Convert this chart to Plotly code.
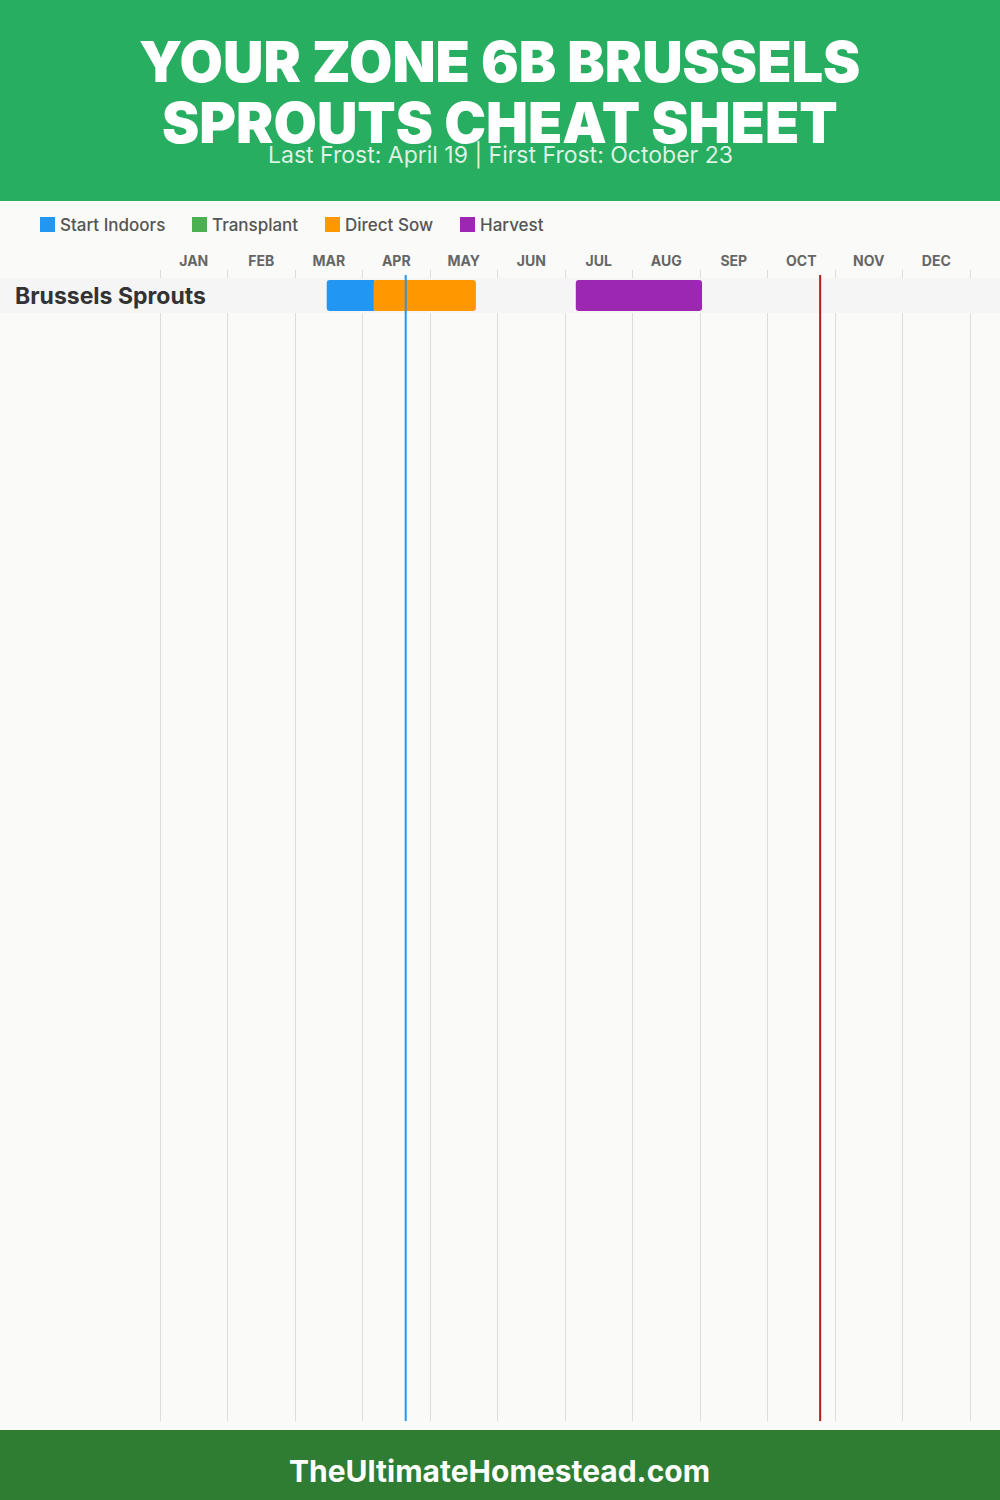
import plotly.graph_objects as go

# ---- data (x unit: months since 1 Jan) ----
months = ["JAN", "FEB", "MAR", "APR", "MAY", "JUN", "JUL", "AUG", "SEP", "OCT", "NOV", "DEC"]
month_edges = [0, 1, 2, 3, 4, 5, 6, 7, 8, 9, 10, 11, 12]
month_centres = [0.5, 1.5, 2.5, 3.5, 4.5, 5.5, 6.5, 7.5, 8.5, 9.5, 10.5, 11.5]
crops = ["Brussels Sprouts"]
phase_names = ["Start Indoors", "Direct Sow", "Harvest"]
phase_starts = [2.47, 3.165, 6.16]
phase_ends = [3.2, 4.68, 8.03]
phase_colors = ["#2196F3", "#FF9800", "#9C27B0"]
legend_names = ["Start Indoors", "Transplant", "Direct Sow", "Harvest"]
legend_colors = ["#2196F3", "#4CAF50", "#FF9800", "#9C27B0"]
legend_px = [40, 192, 325, 460]
last_frost = 3.64
first_frost = 9.78

title_lines = ["YOUR ZONE 6B BRUSSELS", "SPROUTS CHEAT SHEET"]
subtitle = "Last Frost: April 19 | First Frost: October 23"
footer = "TheUltimateHomestead.com"

W, H = 1000, 1500
FONT = "Inter"
PX_MONTH = 67.5
PLOT_TOP, PLOT_BOTTOM = 270, 1421
ROW_H = 35
ROW_C = 295.5
X_MIN, X_MAX = -160 / PX_MONTH, (W - 160) / PX_MONTH


def py(px):
    return 1 - px / H


fig = go.Figure()
for name, s, e, c in zip(phase_names, phase_starts, phase_ends, phase_colors):
    fig.add_trace(go.Bar(
        y=crops, x=[e - s], base=[s], orientation="h", name=name,
        marker=dict(color=c, line=dict(width=0)), width=31 / ROW_H, showlegend=False,
        hovertemplate=name + ": %{base:.2f} to %{x:.2f}<extra></extra>",
    ))

shapes = [
    dict(type="rect", xref="paper", yref="paper", x0=0, x1=1, y0=py(201), y1=1,
         fillcolor="#27AE60", line_width=0, layer="below"),
    dict(type="rect", xref="paper", yref="paper", x0=0, x1=1, y0=0, y1=py(1430),
         fillcolor="#2E7D32", line_width=0, layer="below"),
    dict(type="rect", xref="x", yref="y", x0=X_MIN, x1=X_MAX, y0=-0.5, y1=0.5,
         fillcolor="#F5F5F5", line_width=0, layer="between"),
]
frost_top = (PLOT_BOTTOM - 275) / (PLOT_BOTTOM - PLOT_TOP)
for val, col in ((last_frost, "#2196F3"), (first_frost, "#B71C1C")):
    shapes.append(dict(type="line", xref="x", yref="y domain", x0=val, x1=val, y0=0, y1=frost_top,
                       line=dict(color=col, width=2), layer="above"))

annotations = []


def text(x, y, s, size, color, weight=400, anchor="center"):
    annotations.append(dict(
        xref="paper", yref="paper", x=x / W, y=py(y), text=s, showarrow=False,
        xanchor=anchor, yanchor="middle", xshift=0, yshift=0,
        font=dict(family=FONT, size=size, color=color, weight=weight),
    ))


text(499, 62, title_lines[0], 56, "#FFFFFF", 900)
text(500, 123, title_lines[1], 56, "#FFFFFF", 900)
text(500, 155, subtitle, 23, "rgba(255,255,255,0.85)", 400)
text(499.5, 1471, footer, 30, "#FFFFFF", 700)
text(13, 296, crops[0], 23, "#333333", 700, "left")

for name, col, lx in zip(legend_names, legend_colors, legend_px):
    shapes.append(dict(type="rect", xref="paper", yref="paper",
                       x0=lx / W, x1=(lx + 15) / W, y0=py(232), y1=py(217),
                       fillcolor=col, line_width=0, layer="below"))
    text(lx + 18, 225, name, 17, "#555555", 500, "left")

fig.update_layout(
    width=W, height=H, margin=dict(l=0, r=0, t=0, b=0),
    paper_bgcolor="#FAFAF8", plot_bgcolor="rgba(0,0,0,0)",
    barmode="overlay", barcornerradius=3, showlegend=False,
    font=dict(family=FONT),
    shapes=shapes, annotations=annotations,
    xaxis=dict(
        domain=[0, 1], range=[X_MIN, X_MAX], side="top", anchor="y",
        tickmode="array", tickvals=month_centres, ticktext=months,
        tickfont=dict(family=FONT, size=14, color="#666666", weight=700),
        ticks="", ticklen=0,
        showgrid=False, zeroline=False, showline=False,
        minor=dict(tickmode="array", tickvals=month_edges, showgrid=True,
                   gridcolor="#DDDDDD", gridwidth=1, ticks=""),
    ),
    yaxis=dict(
        domain=[py(PLOT_BOTTOM), py(PLOT_TOP)], type="category", categoryorder="array",
        categoryarray=crops,
        range=[(PLOT_BOTTOM - ROW_C) / ROW_H, -(ROW_C - PLOT_TOP) / ROW_H],
        showticklabels=False, showgrid=False, zeroline=False, showline=False, ticks="",
    ),
)

fig.write_html("out.html", config={"displayModeBar": False},
               post_script="document.body.style.margin='0';")
